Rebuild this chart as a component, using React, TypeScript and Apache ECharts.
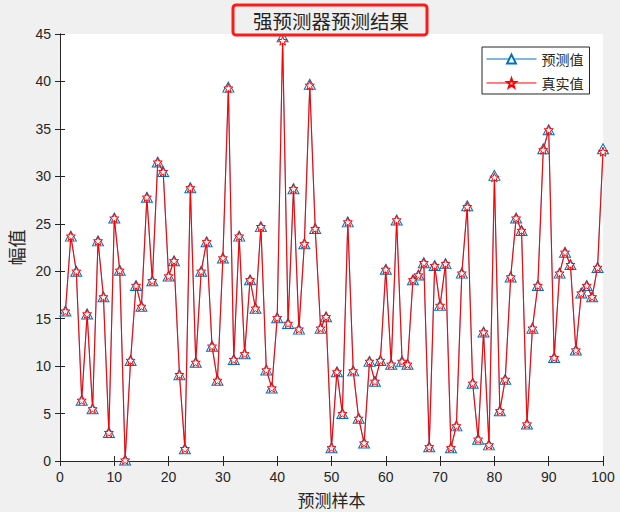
import React, { useEffect, useRef } from "react";
import * as echarts from "echarts";

const samples: number[] = Array.from({ length: 100 }, (_, i) => i + 1);

const predicted: number[] = [
  15.8, 23.7, 20.0, 6.4, 15.5, 5.5, 23.2, 17.3, 3.0, 25.6,
  20.1, 0.1, 10.6, 18.5, 16.3, 27.8, 19.0, 31.5, 30.5, 19.5,
  21.1, 9.1, 1.3, 28.8, 10.4, 20.0, 23.1, 12.1, 8.5, 21.4,
  39.4, 10.7, 23.7, 11.3, 19.1, 16.1, 24.7, 9.6, 7.7, 15.1,
  44.7, 14.5, 28.7, 13.9, 22.9, 39.7, 24.5, 14.0, 15.2, 1.4,
  9.4, 5.0, 25.2, 9.5, 4.5, 1.9, 10.5, 8.4, 10.6, 20.2,
  10.2, 25.4, 10.5, 10.2, 19.1, 19.6, 20.9, 1.5, 20.6, 16.4,
  20.8, 1.4, 3.7, 19.8, 26.9, 8.2, 2.3, 13.6, 1.7, 30.1,
  5.3, 8.6, 19.4, 25.6, 24.3, 3.9, 14.0, 18.5, 32.9, 34.9,
  10.9, 19.8, 22.0, 20.7, 11.7, 17.7, 18.5, 17.3, 20.4, 32.9,
];

const actual: number[] = [
  15.8, 23.7, 20.0, 6.4, 15.5, 5.5, 23.2, 17.3, 3.0, 25.6,
  20.1, 0.1, 10.6, 18.5, 16.3, 27.8, 19.0, 31.5, 30.5, 19.5,
  21.1, 9.1, 1.3, 28.8, 10.4, 20.0, 23.1, 12.1, 8.5, 21.4,
  39.3, 10.7, 23.7, 11.3, 19.1, 16.1, 24.7, 9.6, 7.7, 15.1,
  44.3, 14.5, 28.7, 13.9, 22.9, 39.6, 24.5, 14.0, 15.2, 1.4,
  9.4, 5.0, 25.2, 9.5, 4.5, 1.9, 10.5, 8.4, 10.6, 20.2,
  10.2, 25.4, 10.5, 10.2, 19.1, 19.6, 20.9, 1.5, 20.6, 16.4,
  20.8, 1.4, 3.7, 19.8, 26.8, 8.2, 2.3, 13.6, 1.7, 29.9,
  5.3, 8.6, 19.4, 25.6, 24.3, 3.9, 14.0, 18.5, 32.8, 34.9,
  10.9, 19.8, 22.0, 20.7, 11.7, 17.7, 18.5, 17.3, 20.4, 32.6,
];

const seriesNames: string[] = ["预测值", "真实值"];
const titleText = "强预测器预测结果";
const xAxisName = "预测样本";
const yAxisName = "幅值";

const STAR =
  "path://M0,-10 L2.35,-3.24 L9.51,-3.09 L3.8,1.24 L5.88,8.09 L0,4 L-5.88,8.09 L-3.8,1.24 L-9.51,-3.09 L-2.35,-3.24 Z";

const AXIS_COLOR = "#262626";
const BLUE = "#0072BD";
const RED = "#ff0000";
const CJK = "'Noto Sans CJK SC', 'Noto Sans', sans-serif";
const LATIN = "'Liberation Sans', Arial, sans-serif";

export default function App() {
  const ref = useRef<HTMLDivElement>(null);

  useEffect(() => {
    document.body.style.margin = "0";
    if (!ref.current) return;
    const chart = echarts.init(ref.current, undefined, { renderer: "svg" });

    const predData = samples.map((x, i) => [x, predicted[i]]);
    const realData = samples.map((x, i) => [x, actual[i]]);

    const axisCommon = {
      type: "value" as const,
      axisLine: { show: true, lineStyle: { color: AXIS_COLOR, width: 1 } },
      axisTick: { show: true, inside: true, length: 5, lineStyle: { color: AXIS_COLOR } },
      splitLine: { show: false },
    };

    chart.setOption({
      animation: false,
      backgroundColor: "#f0f0f0",
      grid: {
        left: 60,
        right: 17,
        top: 34,
        bottom: 51,
        show: true,
        backgroundColor: "#ffffff",
        borderWidth: 0,
        outerBoundsMode: "none",
        containLabel: false,
      },
      xAxis: [
        {
          ...axisCommon,
          position: "bottom",
          min: 0,
          max: 100,
          interval: 10,
          axisLabel: { color: AXIS_COLOR, fontSize: 14, fontFamily: LATIN, margin: 9 },
          name: xAxisName,
          nameLocation: "middle",
          nameGap: 28,
          nameTextStyle: { color: AXIS_COLOR, fontSize: 17, fontFamily: CJK, lineHeight: 20 },
        },
        {
          ...axisCommon,
          position: "top",
          min: 0,
          max: 100,
          interval: 10,
          axisLabel: { show: false },
        },
      ],
      yAxis: [
        {
          ...axisCommon,
          position: "left",
          min: 0,
          max: 45,
          interval: 5,
          axisLabel: { color: AXIS_COLOR, fontSize: 14, fontFamily: LATIN, margin: 9 },
          name: yAxisName,
          nameLocation: "middle",
          nameGap: 33,
          nameRotate: 90,
          nameTextStyle: { color: AXIS_COLOR, fontSize: 18, fontFamily: CJK },
        },
        {
          ...axisCommon,
          position: "right",
          min: 0,
          max: 45,
          interval: 5,
          axisLabel: { show: false },
        },
      ],
      legend: {
        orient: "vertical",
        left: 482,
        top: 47,
        itemWidth: 50,
        itemHeight: 11,
        itemGap: 10,
        padding: [5, 6, 4, 4],
        backgroundColor: "#ffffff",
        borderColor: AXIS_COLOR,
        borderWidth: 1,
        borderRadius: 0,
        lineStyle: { width: 1 },
        textStyle: { color: AXIS_COLOR, fontSize: 14, fontFamily: CJK },
        data: seriesNames,
      },
      series: [
        {
          name: seriesNames[0],
          type: "line",
          data: predData,
          symbol: "triangle",
          symbolSize: [11, 10],
          showAllSymbol: true,
          lineStyle: { color: BLUE, width: 0.6 },
          itemStyle: { color: "#ffffff", borderColor: BLUE, borderWidth: 1 },
          z: 2,
        },
        {
          name: seriesNames[1],
          type: "line",
          data: realData,
          symbol: STAR,
          symbolSize: 9,
          showAllSymbol: true,
          lineStyle: { color: RED, width: 1.1 },
          itemStyle: { color: "#ffffff", borderColor: RED, borderWidth: 1 },
          z: 3,
        },
      ],
      graphic: [
        {
          type: "rect",
          z: 100,
          shape: { x: 233, y: 5, width: 194, height: 30, r: 3 },
          style: { fill: "#f0f0f0", stroke: "#ff1a1a", lineWidth: 3 },
        },
        {
          type: "text",
          z: 101,
          x: 331,
          y: 20,
          style: {
            text: titleText,
            fill: AXIS_COLOR,
            font: `19.5px ${CJK}`,
            align: "center",
            verticalAlign: "middle",
          },
        },
      ],
    });

    return () => chart.dispose();
  }, []);

  return <div ref={ref} style={{ width: 620, height: 512 }} />;
}
